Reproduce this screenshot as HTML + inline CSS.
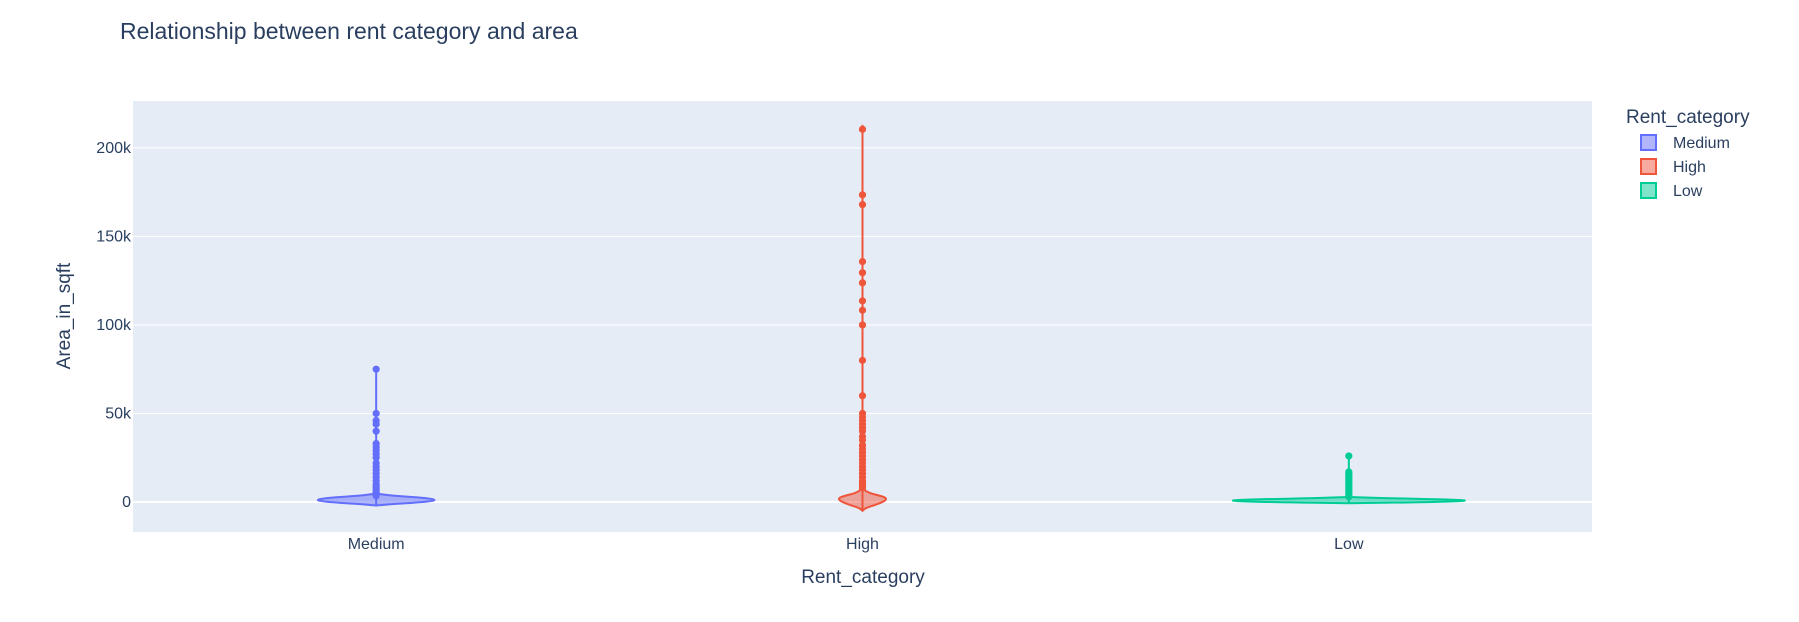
<!DOCTYPE html>
<html><head><meta charset="utf-8"><style>
body{margin:0;background:#fff;}
svg{display:block;font-family:"Liberation Sans",Arial,sans-serif;}
</style></head><body>
<svg id="chart" width="1799" height="622" viewBox="0 0 1799 622">
<rect x="0" y="0" width="1799" height="622" fill="#fff"/>
<text x="120" y="39" font-size="23" fill="#2a3f5f">Relationship between rent category and area</text>
<rect x="133" y="101" width="1459" height="431" fill="#e5ecf6"/>
<g id="grid"></g>
<g id="violins"></g>
<g id="axes"></g>
<text x="863" y="583" font-size="19" fill="#2a3f5f" text-anchor="middle">Rent_category</text>
<text transform="translate(70,316) rotate(-90)" font-size="19" fill="#2a3f5f" text-anchor="middle">Area_in_sqft</text>
<g>
<text x="1626" y="123" font-size="19" fill="#2a3f5f">Rent_category</text>
<g>
<rect x="1641" y="135" width="15" height="15" fill="rgba(99,110,250,0.5)" stroke="#636efa" stroke-width="2"/>
<text x="1673" y="148" font-size="16" fill="#2a3f5f">Medium</text></g>
<g>
<rect x="1641" y="159" width="15" height="15" fill="rgba(239,85,59,0.5)" stroke="#ef553b" stroke-width="2"/>
<text x="1673" y="172" font-size="16" fill="#2a3f5f">High</text></g>
<g>
<rect x="1641" y="183" width="15" height="15" fill="rgba(0,204,150,0.5)" stroke="#00cc96" stroke-width="2"/>
<text x="1673" y="196" font-size="16" fill="#2a3f5f">Low</text></g>
</g>
</svg>
<script>
const categories = ["Medium","High","Low"];
const colors = ["#636efa","#ef553b","#00cc96"];
const fills = ["rgba(99,110,250,0.5)","rgba(239,85,59,0.5)","rgba(0,204,150,0.5)"];
const yTicks = [0,50000,100000,150000,200000];
const yTickLabels = ["0","50k","100k","150k","200k"];
// KDE levels (values) and relative widths for each violin body
const mediumLevels = [-2000,-1200,-300,600,1400,2200,3000,3800,4800];
const mediumDensity = [0,0.25,0.7,0.97,1,0.85,0.55,0.2,0];
const highLevels = [-5000,-3500,-2000,0,1500,2500,3500,5000,7000,8000];
const highDensity = [0,0.12,0.45,0.85,1,0.95,0.75,0.3,0.05,0];
const lowLevels = [-700,-200,400,900,1400,2000,2800];
const lowDensity = [0,0.55,0.92,1,0.85,0.4,0];
const mediumPoints = [75000,50000,46000,44000,40000,33000,31000,29000,27000,25000,22000,20000,18000,16000,14000,12000,10000,9000,8000,7000,6000,5000,4000,3500];
const highPoints = [210500,173500,168000,135800,129500,123800,113600,108300,100000,80000,60000,50000,48000,46000,44000,42000,40000,37000,35000,32000,30000,28000,26000,24000,22000,20000,18000,16000,14000,12000,11000,10000,9000,8000];
const lowPoints = [26000,17000,16000,15000,14000,13000,12000,11000,10000,9000,8000,7000,6000,5000,4000,3000];
const maxVals = [76000,213000,26000];
const halfWidths = [59,24,119];

const ns="http://www.w3.org/2000/svg";
const plotL=133, plotR=1592, plotT=101, plotB=532;
const yMin=-16950, yMax=226500;
function yS(v){return plotB-(v-yMin)/(yMax-yMin)*(plotB-plotT);}
function xS(i){const w=(plotR-plotL)/categories.length;return plotL+w*(i+0.5);}
function mk(tag,attrs,parent){const e=document.createElementNS(ns,tag);for(const k in attrs)e.setAttribute(k,attrs[k]);parent.appendChild(e);return e;}
const grid=document.getElementById('grid'), axes=document.getElementById('axes'), vg=document.getElementById('violins');
yTicks.forEach((t,i)=>{
  const l=mk('line',{x1:plotL,x2:plotR,y1:yS(t),y2:yS(t),stroke:'#fff','stroke-width':t===0?2:1},grid);
  
  
  const tx=mk('text',{x:131,y:yS(t)+5,'font-size':16,fill:'#2a3f5f','text-anchor':'end'},axes);
  tx.textContent=yTickLabels[i];
  
  
});
categories.forEach((c,i)=>{
  const tx=mk('text',{x:xS(i),y:549,'font-size':16,fill:'#2a3f5f','text-anchor':'middle'},axes);
  tx.textContent=c;
  
  
});
const levels=[mediumLevels,highLevels,lowLevels];
const dens=[mediumDensity,highDensity,lowDensity];
const pts=[mediumPoints,highPoints,lowPoints];
categories.forEach((c,i)=>{
  const g=mk('g',{},vg);
  
  
  const cx=xS(i), hw=halfWidths[i];
  const lv=levels[i], d=dens[i];
  mk('line',{x1:cx,x2:cx,y1:yS(lv[0]),y2:yS(maxVals[i]),stroke:colors[i],'stroke-width':2},g);
  let right=lv.map((v,k)=>[cx+d[k]*hw,yS(v)]);
  let left=lv.map((v,k)=>[cx-d[k]*hw,yS(v)]).reverse();
  const all=right.concat(left);
  let p='M'+all[0][0]+','+all[0][1];
  for(let k=1;k<all.length;k++){const a=all[k-1],b=all[k];const mx=(a[0]+b[0])/2,my=(a[1]+b[1])/2;p+=' Q'+a[0]+','+a[1]+' '+mx+','+my;}
  p+=' Z';
  mk('path',{d:p,fill:fills[i],stroke:colors[i],'stroke-width':2,'stroke-linejoin':'round'},g);
  pts[i].forEach(v=>{
    const cpt=mk('circle',{cx:cx,cy:yS(v),r:3.6,fill:colors[i]},g);
    
    
  });
});
</script>
</body></html>
